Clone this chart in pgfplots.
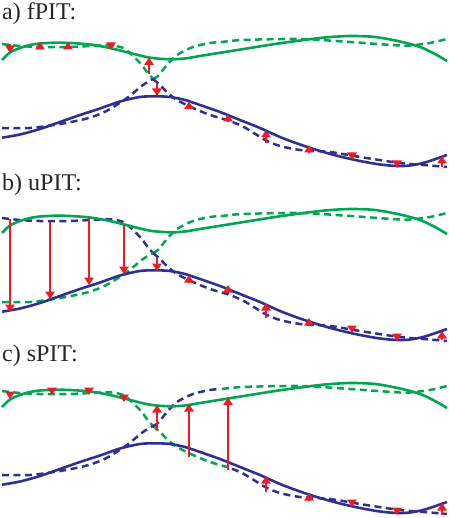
\documentclass[border=0pt]{standalone}
\usepackage{pgfplots}
\pgfplotsset{compat=1.18}
\usepackage{pgfplotstable}
\usepackage{fontspec}
\setmainfont{Liberation Serif}
\usetikzlibrary{arrows.meta}
\definecolor{cg}{RGB}{0,166,81}
\definecolor{cb}{RGB}{46,49,146}
\definecolor{cr}{RGB}{237,28,36}

% solid curves (panel a coordinates, y in pixels from top)
\pgfplotstableread{
x y
2 60
10 52.5
20 48
30 45
40 43.5
55 42.7
70 43
90 44.5
110 48
130 53
150 57.7
170 59.3
185 58.5
200 56
225 52
250 48
275 44
300 40.5
325 37.5
350 36
375 37
400 41.5
420 47
435 54
447 61
}\GS
\pgfplotstableread{
x y
2 137.7
20 134.5
40 129
60 122
80 115
100 108.5
120 101.5
140 97
155 96.3
170 97
185 100
200 105
220 112
240 120
260 128
280 137
300 144.5
320 151
340 156.5
360 161
380 164.5
397 166
410 165.5
425 162.5
447 155
}\BS
% dashed pieces
\pgfplotstableread{
x y
2 44
20 46
40 47
70 47
100 45.5
112 45.5
125 49
140 63
147 72
153 79
}\DGL
\pgfplotstableread{
x y
153 79
158 76
167 65
177 55
193 47
210 43
218 42.3
222 42
243 40
300 39
350 42
400 45.5
415 45
430 43
447 39
}\DGR
\pgfplotstableread{
x y
2 128
30 128
60 124
85 119
100 114
110 109
127 98
143 85
153 79
}\DBL
\pgfplotstableread{
x y
153 79
160 85
168 93
177 100
193 108
210 115
227 120
230 121
232 121.8
243 126.5
257 135
267 141
280 146
300 150
330 152
360 157
400 163
430 165.5
447 167
}\DBR
% arrows: x, tail y, v = tip - tail
\pgfplotstableread{
x y v
10 44 9
40 48 -6
68 48 -6
111 44 6
149 74.3 -16.8
157 84.3 11.7
189 108.5 -7
228 121 -7
266 143 -13
309 152 -7
352 153 7
397 162 6
442 167 -11
}\ArrA
\pgfplotstableread{
x y v
10 219 93
50 222 77
89 218.5 66.5
124 225 49
157 258 13
189 282 -7
228 292 -7
266 318 -15
309 325 -7
352 327 6
397 335 6
442 340 -9
}\ArrB
\pgfplotstableread{
x y v
10 392 7
52 388.5 6.5
89 388.5 6.5
124 396 6
157 430 -25
189 456.7 -52.7
228 470 -72.5
266 491.7 -15.7
309 500 -7
352 500 7
397 508.5 6.5
442 515 -12
}\ArrC

\begin{document}
\begin{tikzpicture}
\begin{axis}[at={(0,0)}, anchor=south west, scale only axis,
  width=448pt, height=518pt, xmin=0, xmax=448, ymin=0, ymax=518,
  y dir=reverse, hide axis, clip=false,
  dsh/.style={line width=2.5pt, dash pattern=on 7pt off 4.5pt, smooth},
  sol/.style={line width=2.6pt, smooth},
  arr/.style={cr, line width=1.4pt, -{Triangle[width=9.5pt,length=7.5pt]}, quiver={u=0, v=\thisrow{v}}}]
% ---------- panel a ----------
\addplot[dsh, cg] table[x=x,y=y] {\DGL};
\addplot[dsh, cg] table[x=x,y=y] {\DGR};
\addplot[dsh, cb] table[x=x,y=y] {\DBL};
\addplot[dsh, cb] table[x=x,y=y] {\DBR};
\addplot[sol, cg] table[x=x,y=y] {\GS};
\addplot[sol, cb] table[x=x,y=y] {\BS};
\addplot[arr] table[x=x,y=y] {\ArrA};
% ---------- panel b ----------
\addplot[dsh, cb] table[x=x,y expr=\thisrow{y}+174] {\DGL};
\addplot[dsh, cg] table[x=x,y expr=\thisrow{y}+174] {\DGR};
\addplot[dsh, cg] table[x=x,y expr=\thisrow{y}+174] {\DBL};
\addplot[dsh, cb] table[x=x,y expr=\thisrow{y}+174] {\DBR};
\addplot[sol, cg] table[x=x,y expr=\thisrow{y}+173] {\GS};
\addplot[sol, cb] table[x=x,y expr=\thisrow{y}+174] {\BS};
\addplot[arr] table[x=x,y=y] {\ArrB};
% ---------- panel c ----------
\addplot[dsh, cg] table[x=x,y expr=\thisrow{y}+347] {\DGL};
\addplot[dsh, cg, restrict x to domain=153:230] table[x=x,y expr=\thisrow{y}+347] {\DBR};
\addplot[dsh, cb, restrict x to domain=232:447] table[x=x,y expr=\thisrow{y}+347] {\DBR};
\addplot[dsh, cb] table[x=x,y expr=\thisrow{y}+347] {\DBL};
\addplot[dsh, cb, restrict x to domain=153:218] table[x=x,y expr=\thisrow{y}+347] {\DGR};
\addplot[dsh, cg, restrict x to domain=222:447] table[x=x,y expr=\thisrow{y}+347] {\DGR};
\addplot[sol, cg] table[x=x,y expr=\thisrow{y}+347] {\GS};
\addplot[sol, cb] table[x=x,y expr=\thisrow{y}+347] {\BS};
\addplot[arr] table[x=x,y=y] {\ArrC};
% labels
\node[anchor=base west, inner sep=0pt, font=\fontsize{24}{28}\selectfont, text=black!85] at (axis cs:2,20) {a) fPIT:};
\node[anchor=base west, inner sep=0pt, font=\fontsize{24}{28}\selectfont, text=black!85] at (axis cs:2,190.5) {b) uPIT:};
\node[anchor=base west, inner sep=0pt, font=\fontsize{24}{28}\selectfont, text=black!85] at (axis cs:2,361) {c) sPIT:};
\end{axis}
\pgfresetboundingbox
\path[use as bounding box] (0,0) rectangle (448pt,518pt);
\end{tikzpicture}
\end{document}
